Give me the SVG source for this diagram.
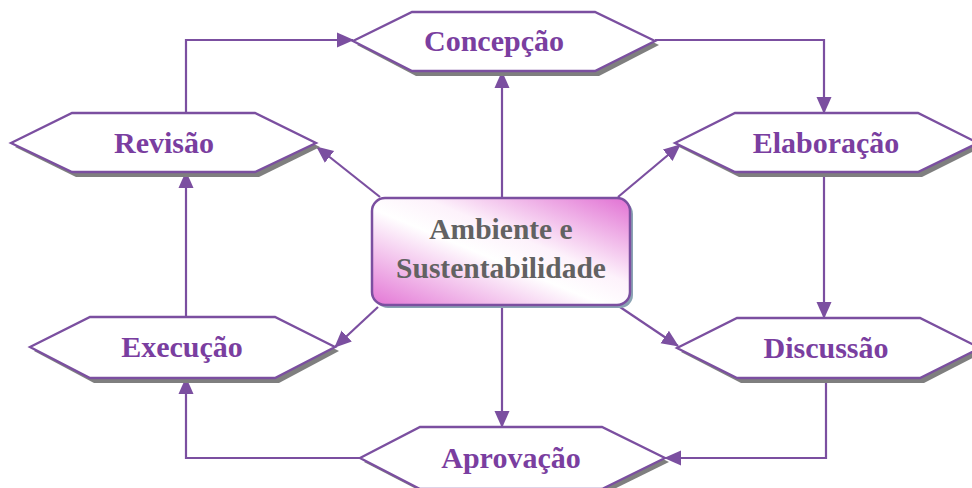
<svg xmlns="http://www.w3.org/2000/svg" width="972" height="488" viewBox="0 0 972 488">
<defs>
<style>
.hex{fill:#ffffff;stroke:#7b4fa0;stroke-width:2.3}
.sh{fill:#7f7f7f}
.lbl{font-family:"Liberation Serif","Times New Roman",serif;font-weight:bold;font-size:30px;fill:#7a3ea0;text-anchor:middle}
.ctr{font-family:"Liberation Serif","Times New Roman",serif;font-weight:bold;font-size:29.5px;fill:#626262;text-anchor:middle}
.con{fill:none;stroke:#7b4fa0;stroke-width:2.2}
</style>
<marker id="ah" markerUnits="userSpaceOnUse" markerWidth="17" markerHeight="17" viewBox="0 0 17 17" refX="16" refY="8.5" orient="auto">
<path d="M0,1 L17,8.5 L0,16 Z" fill="#7b4fa0"/>
</marker>
<linearGradient id="cg" x1="0" y1="1" x2="1" y2="0">
<stop offset="0" stop-color="#e376d5"/>
<stop offset="0.45" stop-color="#ffffff"/>
<stop offset="0.6" stop-color="#fdf2fb"/>
<stop offset="1" stop-color="#e170d3"/>
</linearGradient>
</defs>

<g id="connectors">
<polyline class="con" points="186,113 186,40 353,40" marker-end="url(#ah)"/>
<polyline class="con" points="655,40 824,40 824,113" marker-end="url(#ah)"/>
<polyline class="con" points="824,172 824,318" marker-end="url(#ah)"/>
<polyline class="con" points="826,378 826,458 665,458" marker-end="url(#ah)"/>
<polyline class="con" points="360,458 186,458 186,378" marker-end="url(#ah)"/>
<polyline class="con" points="186,317 186,172" marker-end="url(#ah)"/>
<line class="con" x1="502" y1="198" x2="502" y2="72" marker-end="url(#ah)"/>
<line class="con" x1="502" y1="305" x2="502" y2="427" marker-end="url(#ah)"/>
<line class="con" x1="380" y1="197" x2="317" y2="147" marker-end="url(#ah)"/>
<line class="con" x1="618" y1="197" x2="680" y2="145" marker-end="url(#ah)"/>
<line class="con" x1="378" y1="307" x2="335" y2="347" marker-end="url(#ah)"/>
<line class="con" x1="620" y1="307" x2="678" y2="346" marker-end="url(#ah)"/>
</g>

<g id="concepcao">
<polygon class="sh" points="357,45 416,16 599,16 659,45 599,76 416,76"/>
<polygon class="hex" points="353,41 412,12 595,12 655,41 595,71 412,71"/>
<text class="lbl" x="494" y="51">Concepção</text>
</g>

<g id="revisao">
<polygon class="sh" points="15,147 76,117 259,117 320,147 259,177 76,177"/>
<polygon class="hex" points="11,143 72,113 255,113 316,143 255,172 72,172"/>
<text class="lbl" x="164" y="153">Revisão</text>
</g>

<g id="elaboracao">
<polygon class="sh" points="679,147 739,117 922,117 982,147 922,177 739,177"/>
<polygon class="hex" points="675,143 735,113 918,113 978,143 918,172 735,172"/>
<text class="lbl" x="826" y="153">Elaboração</text>
</g>

<g id="discussao">
<polygon class="sh" points="681,352 741,322 924,322 984,352 924,383 741,383"/>
<polygon class="hex" points="677,348 737,318 920,318 980,348 920,378 737,378"/>
<text class="lbl" x="826" y="358">Discussão</text>
</g>

<g id="execucao">
<polygon class="sh" points="34,351 94,321 279,321 339,351 279,383 94,383"/>
<polygon class="hex" points="30,347 90,317 275,317 335,347 275,378 90,378"/>
<text class="lbl" x="182" y="357">Execução</text>
</g>

<g id="aprovacao">
<polygon class="sh" points="364,462 424,431 606,431 669,462 606,493 424,493"/>
<polygon class="hex" points="360,458 420,427 602,427 665,458 602,489 420,489"/>
<text class="lbl" x="511" y="468">Aprovação</text>
</g>

<g id="ambiente">
<rect x="375" y="201" width="258" height="107" rx="13" fill="#8aa3b3"/>
<rect x="372" y="198" width="258" height="107" rx="13" fill="url(#cg)" stroke="#7b4fa0" stroke-width="2.5"/>
<text class="ctr" x="501" y="239">Ambiente e</text>
<text class="ctr" x="501" y="278">Sustentabilidade</text>
</g>
</svg>
